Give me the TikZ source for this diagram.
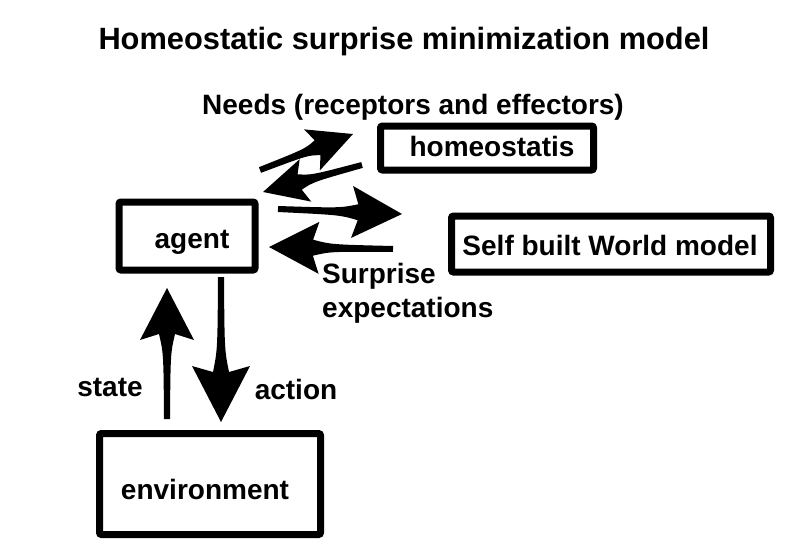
\documentclass[tikz,border=0pt]{standalone}
\usepackage{fontspec}
\setmainfont{Liberation Sans}
\usetikzlibrary{calc}
\newcommand\fatarrow[4]{%
  \path let \p1=(#1), \p2=(#2), \n1={atan2(\y2-\y1,\x2-\x1)}, \n2={veclen(\x2-\x1,\y2-\y1)} in
    \pgfextra{\xdef\faang{\n1}\xdef\falen{\n2}\xdef\fax{\x1}\xdef\fay{\y1}};
  \fill[black, shift={(\fax,\fay)}, rotate=\faang]
    (0pt,-3pt) .. controls ({\falen*0.5},-3.5pt) .. ({\falen-#3},-8pt)
    -- ({\falen-#3-6pt},-#4)
    .. controls ({\falen-#3*0.5-3pt},{-#4*0.47}) .. (\falen,0pt)
    .. controls ({\falen-#3*0.5-3pt},{#4*0.47}) .. ({\falen-#3-6pt},#4)
    -- ({\falen-#3},8pt) .. controls ({\falen*0.5},3.5pt) .. (0pt,3pt) -- cycle;
}
\begin{document}
\begin{tikzpicture}[x=1pt,y=-1pt,
  lbl/.style={font=\fontsize{28}{32}\selectfont\bfseries, inner sep=0pt},
  boxnode/.style={draw=black, line width=7pt, rounded corners=2pt, fill=white, inner sep=0pt}]
\useasboundingbox (0,0) rectangle (800,551);
\fill[white] (0,0) rectangle (800,551);

\node[lbl, font=\fontsize{30.8}{34}\selectfont\bfseries] (title) at (404,42) {Homeostatic surprise minimization model};
\node[lbl] (needs) at (413,107) {Needs (receptors and effectors)};

\node[boxnode, minimum width=213pt, minimum height=44pt,
  label={[lbl, xshift=5pt, yshift=2pt]center:homeostatis}] (homeo) at (487,148) {};
\node[boxnode, minimum width=136pt, minimum height=68pt,
  label={[lbl, xshift=5pt, yshift=-6pt]center:agent}] (agent) at (187,236) {};
\node[boxnode, minimum width=319pt, minimum height=56pt,
  label={[lbl, xshift=-1pt, yshift=-1pt]center:Self built World model}] (world) at (611,244) {};
\node[boxnode, minimum width=221pt, minimum height=101pt,
  label={[lbl, xshift=-5pt, yshift=-5pt]center:environment}] (env) at (210,484) {};

\node[lbl, anchor=west] (surprise) at (322,276) {Surprise};
\node[lbl, anchor=west] (expect) at (322,310) {expectations};
\node[lbl] (state) at (110,387) {state};
\node[lbl] (action) at (296,389) {action};

\coordinate (a1s) at (260,170);
\coordinate (a1e) at (353,134);
\coordinate (a2s) at (362,165);
\coordinate (a2e) at (263,192);
\coordinate (a3s) at (278,209);
\coordinate (a3e) at (402,214);
\coordinate (a4s) at (393,249);
\coordinate (a4e) at (269,247);
\coordinate (a5s) at (167,419);
\coordinate (a5e) at (167,288);
\coordinate (a6s) at (221,277);
\coordinate (a6e) at (221,422);

\fatarrow{a1s}{a1e}{38pt}{22pt}
\fatarrow{a2s}{a2e}{38pt}{22pt}
\fatarrow{a3s}{a3e}{44pt}{26pt}
\fatarrow{a4s}{a4e}{44pt}{26pt}
\fatarrow{a5s}{a5e}{46pt}{27pt}
\fatarrow{a6s}{a6e}{50pt}{29pt}
\end{tikzpicture}
\end{document}
